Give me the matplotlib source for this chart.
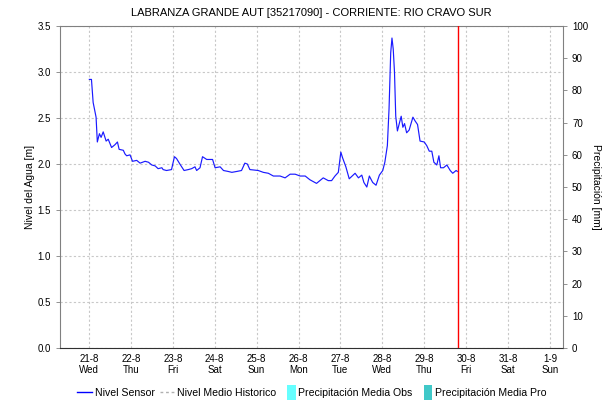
import matplotlib
matplotlib.use("Agg")
import matplotlib.pyplot as plt
from matplotlib.lines import Line2D
from matplotlib.patches import Patch, Rectangle
from matplotlib.legend_handler import HandlerPatch

plt.rcParams['font.family'] = ['Liberation Sans', 'DejaVu Sans']

# Sensor water level: time in days since 21-8 00:00, level in metres
t_days = [0.01, 0.06, 0.10, 0.17, 0.20, 0.25, 0.29, 0.34, 0.41, 0.46, 0.54, 0.62,
          0.68, 0.72, 0.82, 0.86, 0.90, 0.98, 1.04, 1.14, 1.22, 1.34, 1.42, 1.50,
          1.58, 1.65, 1.74, 1.77, 1.85, 1.97, 2.04, 2.09, 2.17, 2.27, 2.37, 2.45,
          2.53, 2.57, 2.65, 2.71, 2.81, 2.95, 3.01, 3.13, 3.21, 3.32, 3.41, 3.53,
          3.64, 3.72, 3.78, 3.84, 4.04, 4.16, 4.28, 4.40, 4.56, 4.68, 4.80, 4.92,
          5.04, 5.16, 5.27, 5.43, 5.59, 5.71, 5.79, 5.87, 5.95, 6.01, 6.05, 6.13,
          6.21, 6.35, 6.43, 6.51, 6.56, 6.63, 6.69, 6.77, 6.85, 6.93, 7.01, 7.06,
          7.12, 7.16, 7.20, 7.23, 7.26, 7.29, 7.32, 7.36, 7.41, 7.45, 7.49, 7.53,
          7.58, 7.64, 7.73, 7.78, 7.84, 7.90, 8.00, 8.06, 8.12, 8.18, 8.23, 8.30,
          8.35, 8.39, 8.46, 8.54, 8.62, 8.68, 8.76, 8.79]
nivel = [2.92, 2.92, 2.67, 2.51, 2.24, 2.33, 2.29, 2.35, 2.25, 2.27, 2.18, 2.21,
         2.24, 2.16, 2.15, 2.11, 2.09, 2.10, 2.03, 2.04, 2.01, 2.03, 2.02, 1.99,
         1.98, 1.95, 1.96, 1.94, 1.93, 1.94, 2.08, 2.06, 2.00, 1.93, 1.94, 1.95,
         1.97, 1.93, 1.96, 2.08, 2.05, 2.05, 1.96, 1.97, 1.93, 1.92, 1.91, 1.92,
         1.93, 2.01, 2.00, 1.94, 1.93, 1.91, 1.90, 1.87, 1.87, 1.85, 1.89, 1.89,
         1.87, 1.87, 1.83, 1.79, 1.85, 1.82, 1.82, 1.87, 1.91, 2.13, 2.07, 1.97,
         1.84, 1.90, 1.85, 1.88, 1.80, 1.75, 1.87, 1.80, 1.77, 1.88, 1.93, 2.02,
         2.20, 2.60, 3.21, 3.37, 3.25, 3.00, 2.52, 2.36, 2.45, 2.52, 2.40, 2.44,
         2.34, 2.37, 2.51, 2.47, 2.43, 2.25, 2.24, 2.20, 2.14, 2.14, 2.02, 1.99,
         2.09, 1.96, 1.96, 1.99, 1.93, 1.90, 1.93, 1.92]

# Day ticks
tick_days = list(range(12))
tick_labels = ['21-8\nWed', '22-8\nThu', '23-8\nFri', '24-8\nSat', '25-8\nSun',
               '26-8\nMon', '27-8\nTue', '28-8\nWed', '29-8\nThu', '30-8\nFri',
               '31-8\nSat', '1-9\nSun']
now_day = 8.81  # current-time marker

fig = plt.figure(figsize=(6.15, 4.01), dpi=100)
ax = fig.add_axes([0.0976, 0.132, 0.8178, 0.803])

ax.plot(t_days, nivel, color='#1a1aff', lw=0.85, zorder=3)
ax.axvline(now_day, color='#ff0000', lw=1.0, zorder=4)

ax.set_xlim(-0.69, 11.31)
ax.set_ylim(0, 3.5)
ax.set_xticks(tick_days)
ax.set_xticklabels(tick_labels)
ax.set_yticks([0, 0.5, 1.0, 1.5, 2.0, 2.5, 3.0, 3.5])
ax.set_yticklabels(['0.0', '0.5', '1.0', '1.5', '2.0', '2.5', '3.0', '3.5'])

ax.grid(True, color='#c8c8c8', linestyle=(0, (2, 2)), lw=0.8)
ax.set_axisbelow(True)
for s in ['left', 'top', 'right']:
    ax.spines[s].set_color('#808080')
ax.spines['bottom'].set_color('#303030')
ax.spines['bottom'].set_linestyle((0, (1, 1)))
ax.tick_params(axis='both', labelsize=7, colors='#000000', length=3, width=0.6)
ax.tick_params(axis='x', length=0, pad=4)
ax.tick_params(axis='y', color='#808080')
ax.set_ylabel('Nivel del Agua [m]', fontsize=7.5, labelpad=2)

ax2 = ax.twinx()
ax2.set_ylim(0, 100)
ax2.set_yticks(range(0, 101, 10))
ax2.tick_params(axis='y', labelsize=7, length=3, width=0.6, color='#808080')
for s in ax2.spines.values():
    s.set_visible(False)
ax2.set_ylabel('Precipitación [mm]', fontsize=7.5, rotation=-90, labelpad=9)

ax.set_title('LABRANZA GRANDE AUT [35217090] - CORRIENTE: RIO CRAVO SUR',
             fontsize=8, pad=7)


class NarrowPatchHandler(HandlerPatch):
    """Legend key drawn as a slim upright block at the right of the key area."""
    def create_artists(self, legend, orig_handle, xdescent, ydescent,
                       width, height, fontsize, trans):
        w = 6.0
        h = 11.0
        r = Rectangle((width - xdescent - w, -ydescent + (height - h) / 2), w, h,
                      facecolor=orig_handle.get_facecolor(), edgecolor='none',
                      transform=trans)
        return [r]


obs_patch = Patch(facecolor='#66ffff', edgecolor='none')
pro_patch = Patch(facecolor='#40c8c8', edgecolor='none')
handles = [Line2D([], [], color='#0000ff', lw=1),
           Line2D([], [], color='#b0b0b0', lw=1, linestyle=(0, (2, 2))),
           obs_patch, pro_patch]
labels = ['Nivel Sensor', 'Nivel Medio Historico', 'Precipitación Media Obs',
          'Precipitación Media Pro']
fig.legend(handles, labels, loc='center', bbox_to_anchor=(0.507, 0.02), ncol=4,
           frameon=False, fontsize=7.6, handlelength=1.4, handletextpad=0.25,
           columnspacing=0.45,
           handler_map={Patch: NarrowPatchHandler()})

fig.savefig('out.png', dpi=100)
